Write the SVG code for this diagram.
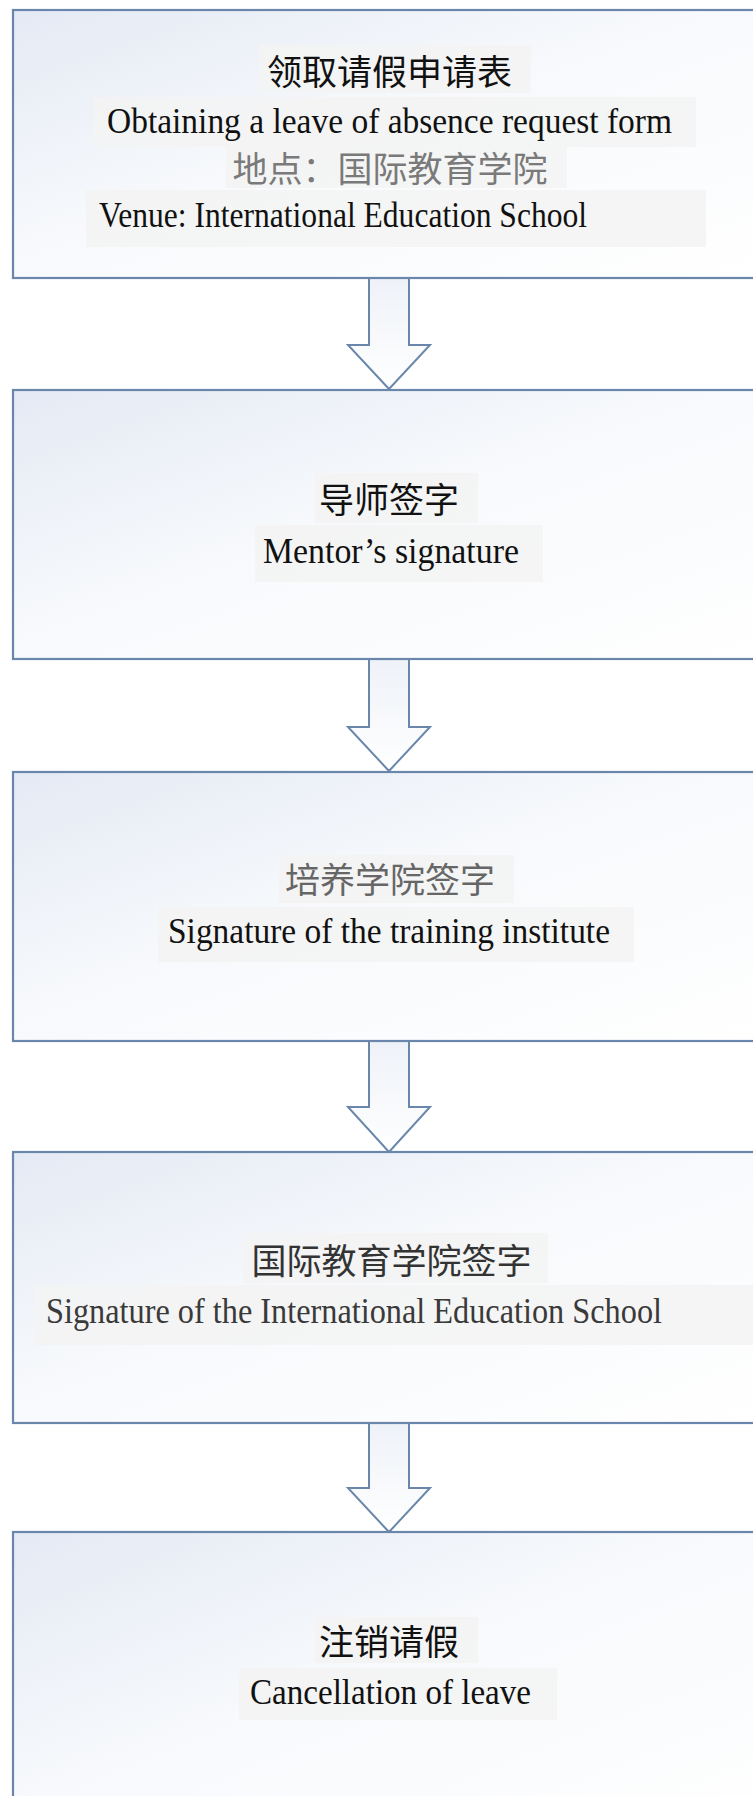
<svg xmlns="http://www.w3.org/2000/svg" width="753" height="1796" viewBox="0 0 753 1796">
<defs>
<linearGradient id="boxfill" x1="0" y1="0" x2="1" y2="1">
<stop offset="0" stop-color="#e4eaf4"/>
<stop offset="0.45" stop-color="#f7f9fc"/>
<stop offset="1" stop-color="#ffffff"/>
</linearGradient>
<linearGradient id="arrfill" x1="0" y1="0" x2="0" y2="1">
<stop offset="0" stop-color="#eef2f8"/>
<stop offset="1" stop-color="#ffffff"/>
</linearGradient>
<style>
.box{fill:url(#boxfill);stroke:#6a87ab;stroke-width:2.2}
.arr{fill:url(#arrfill);stroke:#6a87ab;stroke-width:2}
.bg{fill:#f3f3f3;opacity:0.85}
.zh{font-family:"Noto Sans CJK SC",sans-serif;font-size:35px;text-anchor:middle}
.en{font-family:"Liberation Serif",serif;font-size:35px}
</style>
</defs>
<rect width="753" height="1796" fill="#ffffff"/>
<g id="connectors">
<path class="arr" d="M369,278 L369,345 L348,345 L389,389 L430,345 L409,345 L409,278"/>
<path class="arr" d="M369,659 L369,727 L348,727 L389,771 L430,727 L409,727 L409,659"/>
<path class="arr" d="M369,1041 L369,1107 L348,1107 L389,1152 L430,1107 L409,1107 L409,1041"/>
<path class="arr" d="M369,1423 L369,1488 L348,1488 L389,1532 L430,1488 L409,1488 L409,1423"/>
</g>
<g id="node1">
<rect class="box" x="13" y="10" width="760" height="268"/>
<rect class="bg" x="259" y="45" width="272" height="48"/>
<rect class="bg" x="94" y="97" width="602" height="50"/>
<rect class="bg" x="226" y="147" width="341" height="41"/>
<rect class="bg" x="86" y="190" width="620" height="57"/>
<text class="zh" x="389.5" y="85" fill="#111">领取请假申请表</text>
<text class="en" x="107" y="133" textLength="565" lengthAdjust="spacingAndGlyphs" fill="#111">Obtaining a leave of absence request form</text>
<text class="zh" x="390" y="182" fill="#7a7a7a">地点：国际教育学院</text>
<text class="en" x="99" y="227" textLength="488" lengthAdjust="spacingAndGlyphs" fill="#111">Venue: International Education School</text>
</g>
<g id="node2">
<rect class="box" x="13" y="390" width="760" height="269"/>
<rect class="bg" x="315" y="473" width="163" height="50"/>
<rect class="bg" x="255" y="525" width="288" height="57"/>
<text class="zh" x="389" y="513" fill="#111">导师签字</text>
<text class="en" x="263" y="563" textLength="256" lengthAdjust="spacingAndGlyphs" fill="#111">Mentor’s signature</text>
</g>
<g id="node3">
<rect class="box" x="13" y="772" width="760" height="269"/>
<rect class="bg" x="279" y="855" width="235" height="48"/>
<rect class="bg" x="158" y="907" width="476" height="55"/>
<text class="zh" x="390" y="893" fill="#666">培养学院签字</text>
<text class="en" x="168" y="943" textLength="442" lengthAdjust="spacingAndGlyphs" fill="#111">Signature of the training institute</text>
</g>
<g id="node4">
<rect class="box" x="13" y="1152" width="760" height="271"/>
<rect class="bg" x="243" y="1233" width="305" height="50"/>
<rect class="bg" x="34" y="1285" width="719" height="60"/>
<text class="zh" x="391.5" y="1274" fill="#333">国际教育学院签字</text>
<text class="en" x="46" y="1323" textLength="616" lengthAdjust="spacingAndGlyphs" fill="#3a3a3a">Signature of the  International Education School</text>
</g>
<g id="node5">
<rect class="box" x="13" y="1532" width="760" height="300"/>
<rect class="bg" x="315" y="1617" width="163" height="46"/>
<rect class="bg" x="239" y="1668" width="318" height="52"/>
<text class="zh" x="389" y="1655" fill="#111">注销请假</text>
<text class="en" x="250" y="1704" textLength="281" lengthAdjust="spacingAndGlyphs" fill="#111">Cancellation of leave</text>
</g>
</svg>
